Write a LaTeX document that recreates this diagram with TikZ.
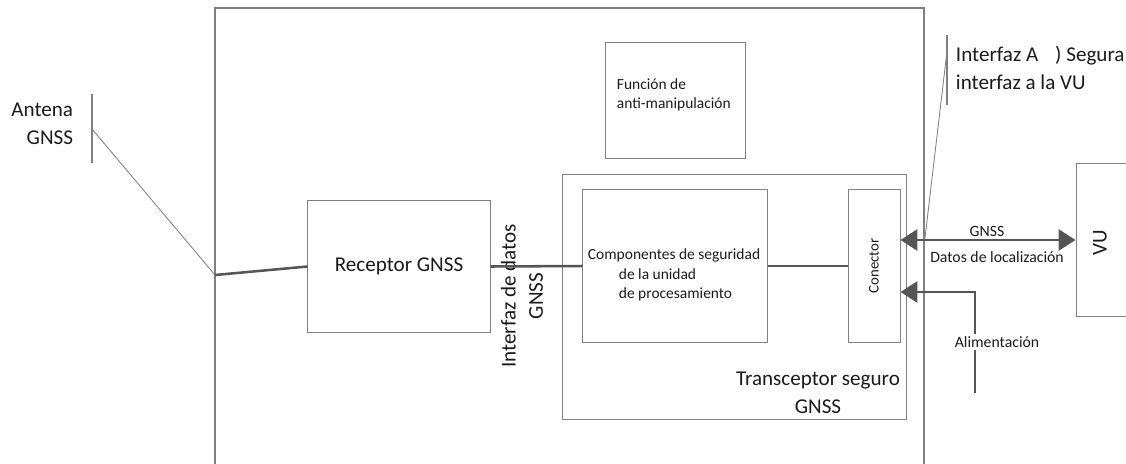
\documentclass[tikz,border=0pt]{standalone}
\usepackage{fontspec}
\setmainfont{Carlito}
\usepackage{xcolor}
\usetikzlibrary{arrows.meta, calc}
\definecolor{boxgray}{HTML}{808080}
\definecolor{wiregray}{HTML}{555555}
\definecolor{inkgray}{HTML}{1A1A1A}

\begin{document}
\begin{tikzpicture}[x=0.025cm, y=-0.025cm, >={Triangle[length=12pt,width=15pt]},
  box/.style={draw=boxgray, line width=0.7pt, inner sep=0pt},
  wire/.style={draw=wiregray, line width=1.8pt},
  hair/.style={draw=boxgray, line width=0.6pt},
  big/.style={font=\fontsize{15}{19.5}\selectfont, text=inkgray},
  mid/.style={font=\fontsize{11}{14}\selectfont, text=inkgray},
  small/.style={font=\fontsize{11.2}{13}\selectfont, text=inkgray}]
  \clip (0,0) rectangle (1126,463);
  % on-board unit
  \draw[hair, line width=0.8pt] (215,470) |- (924,8) -- (924,470);
  \node[box, minimum width=3.475cm, minimum height=2.875cm] (F) at (675.5,100.5) {};
  \node[mid, anchor=west, align=left] (Ft) at (612,95) {Función de\\anti-manipulación};
  \node[box, big, minimum width=4.55cm, minimum height=3.275cm] (R) at (399,266.5) {Receptor GNSS};
  \node[box, minimum width=8.575cm, minimum height=6.1cm] (T) at (734.5,297) {};
  \node[big, align=center] (Tt) at (818,393) {Transceptor seguro\\GNSS};
  \node[box, minimum width=4.6cm, minimum height=3.8cm] (C) at (675,266) {};
  \node[mid, anchor=west, align=left] (Ct) at (583,275) {Componentes de seguridad\\\hspace*{22pt}de la unidad\\\hspace*{22pt}de procesamiento};
  \node[box, font=\fontsize{10.5}{12}\selectfont, text=inkgray, minimum width=1.3cm, minimum height=3.8cm] (K) at (874,266) {\rotatebox{90}{Conector}};
  \node[box, minimum width=2cm, minimum height=3.8cm] (V) at (1116,240) {};
  \node[big] (Vt) at (1100,243) {\rotatebox{90}{VU}};
  \node[big, rotate=90, align=center] (I) at (522,296) {Interfaz de datos\\GNSS};
  % antenna
  \coordinate (aT) at (92,94);
  \coordinate (aB) at (92,163);
  \coordinate (aM) at (92,129);
  \coordinate (feed) at (215,275);
  \node[big, anchor=east, align=right] (A) at (78,124) {Antena\\GNSS};
  \draw[hair, line width=0.8pt] (aT) -- (aB);
  \draw[hair] (aM) -- (feed);
  % links
  \draw[wire] (feed) -- (R.west);
  \draw[wire] (R.east) -- (C.west);
  \draw[wire] (C.east) -- (K.west);
  \draw[wire, <->] ($(K.east)+(0,-26)$) -- (V.west);
  \node[small] (g) at (987,231) {GNSS};
  \node[small] (d) at (997,257) {Datos de localización};
  \coordinate (pwr) at (975,393);
  \draw[wire, ->] (pwr) |- ($(K.east)+(0,26)$);
  \node[small, fill=white, inner sep=2pt] (p) at (997,342) {Alimentación};
  % interface A
  \coordinate (iT) at (947,35);
  \coordinate (iB) at (947,105);
  \coordinate (iM) at (947,51);
  \coordinate (iE) at (925,238);
  \draw[hair, line width=0.8pt] (iT) -- (iB);
  \draw[hair] (iM) -- (iE);
  \node[big, anchor=west, align=left] (It) at (951,68) {Interfaz A\hspace{0.8em}) Segura\\interfaz a la VU};
\end{tikzpicture}
\end{document}
